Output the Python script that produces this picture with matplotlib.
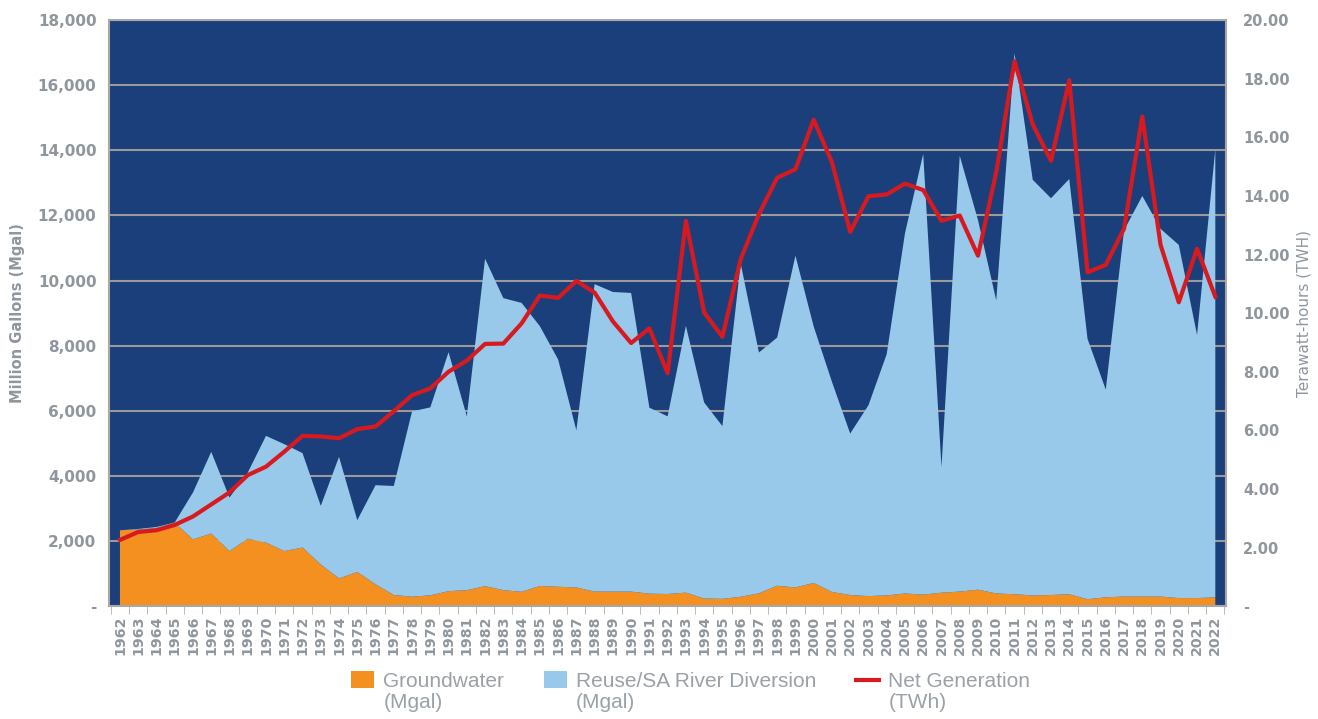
import numpy as np
import matplotlib
matplotlib.use("Agg")
import matplotlib.pyplot as plt
from matplotlib.patches import Patch, Rectangle
from matplotlib.lines import Line2D
from matplotlib.legend_handler import HandlerPatch, HandlerLine2D
from matplotlib.ticker import FuncFormatter

years = list(range(1962, 2023))

# groundwater (Mgal), bottom layer
groundwater = [2330, 2350, 2400, 2560, 2050, 2230, 1690, 2070, 1950, 1690,
               1800, 1280, 850, 1050, 670, 340, 290, 330, 460, 490,
               615, 490, 440, 620, 594, 573, 446, 446, 446, 382,
               372, 414, 234, 223, 287, 393, 626, 573, 711, 435,
               340, 308, 329, 388, 353, 412, 447, 506, 388, 365,
               329, 341, 365, 212, 271, 294, 294, 294, 247, 247,
               271]

# top of the stacked area (groundwater + reuse), Mgal
total = [2330, 2370, 2430, 2570, 3490, 4740, 3335, 4100, 5230, 4975,
         4700, 3080, 4585, 2640, 3715, 3690, 5980, 6105, 7800, 5830,
         10670, 9460, 9315, 8600, 7580, 5400, 9890, 9650, 9620, 6095,
         5830, 8610, 6255, 5530, 10530, 7790, 8250, 10765, 8590, 6890,
         5300, 6170, 7740, 11450, 13895, 4270, 13835, 11860, 9390, 16980,
         13095, 12530, 13120, 8210, 6650, 11540, 12600, 11590, 11095, 8330,
         14035]

reuse = [t - g for t, g in zip(total, groundwater)]

# net generation, TWh
net_gen = [2.26, 2.53, 2.59, 2.77, 3.06, 3.47, 3.88, 4.47, 4.76, 5.27,
           5.81, 5.79, 5.73, 6.04, 6.13, 6.65, 7.20, 7.43, 8.00, 8.38,
           8.95, 8.96, 9.65, 10.60, 10.52, 11.10, 10.70, 9.72, 8.98, 9.48,
           7.95, 13.15, 10.02, 9.19, 11.84, 13.38, 14.62, 14.91, 16.60, 15.15,
           12.77, 13.99, 14.05, 14.42, 14.20, 13.15, 13.33, 11.96, 14.81, 18.60,
           16.44, 15.20, 17.95, 11.39, 11.65, 12.88, 16.71, 12.33, 10.37, 12.20,
           10.56]

navy = "#1b3f7a"
light_blue = "#98c9ea"
orange = "#f39020"
red = "#d71a20"
gray = "#8f969d"

plt.rcParams['font.family'] = ['DejaVu Sans']

fig = plt.figure(figsize=(13.18, 7.19), dpi=100)
ax = fig.add_axes([0.0827, 0.157, 0.8477, 0.815])
ax.set_facecolor(navy)

x = np.arange(len(years))
ax.stackplot(x, groundwater, reuse, colors=[orange, light_blue], zorder=2)

ax.set_xlim(-0.6, len(years) - 0.4)
ax.set_ylim(0, 18000)
ax.set_yticks(range(0, 18001, 2000))
ax.yaxis.set_major_formatter(FuncFormatter(lambda v, p: "-" if v == 0 else f"{int(v):,}"))
ax.grid(axis='y', color="#9a9a9a", lw=1.5, zorder=1)
ax.set_axisbelow(True)

ax.set_xticks(x)
ax.set_xticklabels([str(y) for y in years], rotation=90, fontsize=10.2,
                   fontweight='bold', color=gray)
ax.set_xticks(np.arange(-0.5, len(years)), minor=True)
ax.tick_params(axis='x', which='major', length=0, pad=7)
ax.tick_params(axis='x', which='minor', length=6, color="#b0b0b0")
ax.tick_params(axis='y', length=0, labelsize=11, labelcolor=gray, pad=9)
for lab in ax.get_yticklabels():
    lab.set_fontweight('bold')

ax.set_ylabel("Million Gallons (Mgal)", fontsize=10.5, fontweight='bold',
              color=gray, labelpad=9)

for s in ax.spines.values():
    s.set_color("#a8a8a8")
    s.set_linewidth(1.5)

ax2 = ax.twinx()
ax2.plot(x, net_gen, color=red, lw=3, zorder=5)
ax2.set_ylim(0, 20)
ax2.set_yticks(range(0, 21, 2))
ax2.yaxis.set_major_formatter(FuncFormatter(lambda v, p: "-" if v == 0 else f"{v:.2f}"))
ax2.tick_params(axis='y', length=0, labelsize=10.5, labelcolor=gray, pad=12)
for lab in ax2.get_yticklabels():
    lab.set_fontweight('bold')
ax2.set_ylabel("Terawatt-hours (TWH)", fontsize=11, color=gray, labelpad=5)
for s in ax2.spines.values():
    s.set_visible(False)


# legend keys sit beside the first line of each two-line label
class TopPatch(HandlerPatch):
    def create_artists(self, legend, orig_handle, xdescent, ydescent,
                       width, height, fontsize, trans):
        p = Rectangle((0, 0.55 * fontsize), width, height * 0.95,
                      facecolor=orig_handle.get_facecolor(), edgecolor='none',
                      transform=trans)
        return [p]


class TopLine(HandlerLine2D):
    def create_artists(self, legend, orig_handle, xdescent, ydescent,
                       width, height, fontsize, trans):
        ln = Line2D([0, width], [0.55 * fontsize + height * 0.45] * 2,
                    color=orig_handle.get_color(), lw=orig_handle.get_linewidth(),
                    transform=trans)
        return [ln]


handles = [Patch(color=orange), Patch(color=light_blue), Line2D([], [], color=red, lw=3)]
labels = ["Groundwater\n(Mgal)", "Reuse/SA River Diversion\n(Mgal)", "Net Generation\n(TWh)"]
leg = fig.legend(handles, labels, loc='lower center', bbox_to_anchor=(0.524, -0.01), ncol=3,
                 frameon=False, labelcolor="#9aa1a8", handlelength=1.1,
                 handleheight=0.95, columnspacing=1.9, handletextpad=0.45,
                 borderpad=0.2, labelspacing=0.1,
                 prop={'family': ['Liberation Sans', 'DejaVu Sans'], 'size': 15},
                 handler_map={Patch: TopPatch(), Line2D: TopLine()})
for t in leg.get_texts():
    t.set_linespacing(1.1)

fig.savefig("out.png", dpi=100)
